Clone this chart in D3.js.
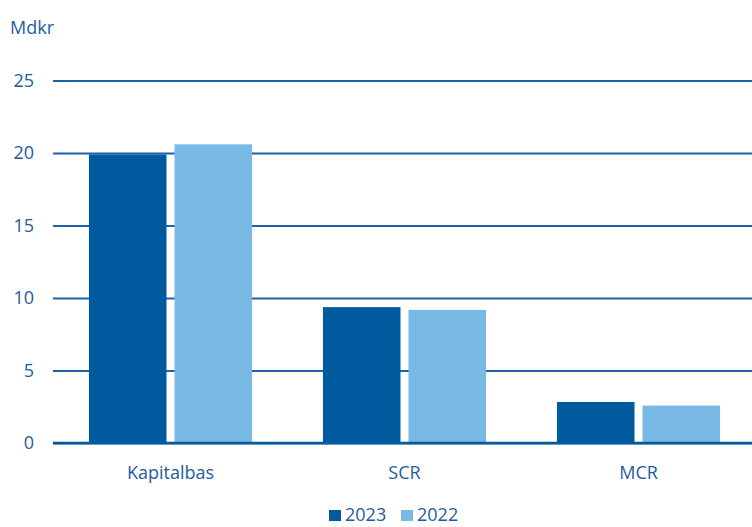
<!DOCTYPE html>
<html><head><meta charset="utf-8">
<script src="https://cdn.jsdelivr.net/npm/d3@7/dist/d3.min.js"></script>
<style>body{margin:0;background:#fff}svg{display:block}text{font-family:"Open Sans",sans-serif}</style>
</head><body>
<script>
const categories = ["Kapitalbas", "SCR", "MCR"];
const seriesNames = ["2023", "2022"];
const values2023 = [19.9, 9.37, 2.83];
const values2022 = [20.6, 9.18, 2.58];
const yTicks = [0, 5, 10, 15, 20, 25];
const colors = ["#005a9e", "#78b9e6"];
const textColor = "#1f5d9c";

const W = 752, H = 527;
const svg = d3.select("body").append("svg").attr("width", W).attr("height", H);
const y = d3.scaleLinear().domain([0, 25]).range([443, 80.5]);
const x0 = d3.scaleBand().domain(categories).range([53.5, 755.5]).paddingInner(0.303).paddingOuter(0.1515);
const x1 = d3.scaleBand().domain(seriesNames).range([0, x0.bandwidth()]).paddingInner(0.0936).paddingOuter(0);

// grid
const yAxis = d3.axisLeft(y).tickValues(yTicks).tickSize(-(W - 53)).tickFormat(d3.format("d"));
const ga = svg.append("g").attr("transform", "translate(53,0)").call(yAxis);
ga.select(".domain").remove();
ga.selectAll(".tick line").attr("stroke", "#1d62a6").attr("stroke-width", 2);
ga.selectAll(".tick text").attr("x", -19).attr("fill", textColor).style("font-size", "18px");

const data = categories.map((c, i) => ({c, vals: [values2023[i], values2022[i]]}));
const g = svg.append("g").selectAll("g").data(data).join("g").attr("transform", d => `translate(${x0(d.c)},0)`);
g.selectAll("rect").data(d => d.vals.map((v, j) => ({v, s: seriesNames[j], j})))
  .join("rect")
  .attr("x", d => x1(d.s)).attr("width", x1.bandwidth())
  .attr("y", d => y(d.v)).attr("height", d => y(0) - y(d.v))
  .attr("fill", d => colors[d.j]);

// baseline
svg.append("line").attr("x1", 53).attr("x2", W).attr("y1", y(0)).attr("y2", y(0)).attr("stroke", "#005a9e").attr("stroke-width", 2.5);

// category axis
const xAxis = d3.axisBottom(x0).tickSize(0).tickPadding(0);
const gx = svg.append("g").attr("transform", `translate(0,${y(0)})`).call(xAxis);
gx.select(".domain").remove();
gx.selectAll(".tick text").attr("dy", null).attr("y", 36).attr("fill", textColor).style("font-size", "18px");

svg.append("text").attr("x", 10).attr("y", 34).text("Mdkr").attr("fill", textColor).style("font-size", "18px");

// legend
const leg = svg.append("g").selectAll("g").data(seriesNames).join("g")
  .attr("transform", (d, i) => `translate(${329 + i * 72},0)`);
leg.append("rect").attr("x", 0).attr("y", 510).attr("width", 12).attr("height", 11).attr("fill", (d, i) => colors[i]);
leg.append("text").attr("x", 16).attr("y", 521).text(d => d).attr("fill", textColor).style("font-size", "18px");
</script>
</body></html>
